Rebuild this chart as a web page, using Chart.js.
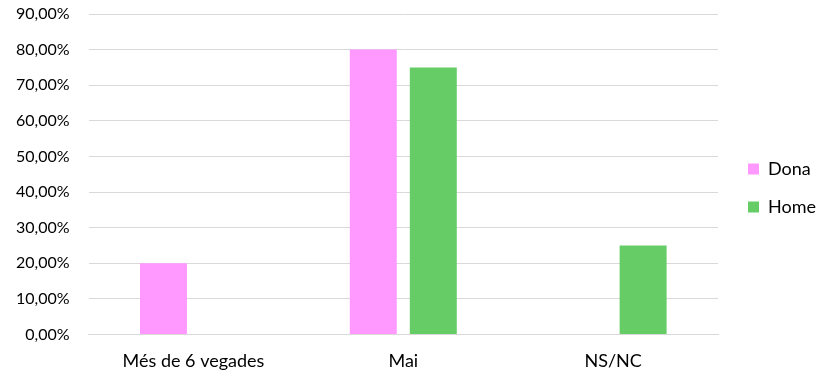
<!DOCTYPE html>
<html>
<head>
<meta charset="utf-8">
<script src="https://cdn.jsdelivr.net/npm/chart.js@4.4.1/dist/chart.umd.min.js"></script>
<style>
  html, body { margin: 0; padding: 0; background: #fff; }
  #wrap { width: 818px; height: 376px; }
</style>
</head>
<body>
<div id="wrap"><canvas id="chart"></canvas></div>
<script>
// Categories and values (percent)
const categories = ["Més de 6 vegades", "Mai", "NS/NC"];
const dona = [20, 80, 0];
const home = [0, 75, 25];

const ctx = document.getElementById("chart").getContext("2d");
Chart.defaults.font.family = "Lato, 'Open Sans', sans-serif";
Chart.defaults.color = "#000";

// legend sits closer to the right edge (and a bit higher) than Chart.js puts it
const tightLegend = {
  id: "tightLegend",
  beforeLayout(chart) {
    const lg = chart.legend;
    if (lg && !lg._tight) {
      const fit = lg.fit;
      lg.fit = function () { fit.call(this); this.width -= 8; };
      lg._tight = true;
    }
  },
  afterLayout(chart) {
    const lg = chart.legend;
    if (lg) { lg.top -= 5; lg.bottom -= 5; }
  }
};

new Chart(ctx, {
  type: "bar",
  data: {
    labels: categories,
    datasets: [
      { label: "Dona", data: dona, backgroundColor: "#FF99FF" },
      { label: "Home", data: home, backgroundColor: "#66CC66" }
    ]
  },
  plugins: [tightLegend],
  options: {
    responsive: true,
    maintainAspectRatio: false,
    animation: false,
    categoryPercentage: 0.572,
    barPercentage: 0.783,
    layout: { padding: { top: 14, right: 0, bottom: 4, left: 16 } },
    plugins: {
      tooltip: { enabled: false },
      legend: {
        position: "right",
        labels: {
          boxWidth: 11,
          boxHeight: 11,
          padding: 20,
          font: { size: 18 }
        }
      }
    },
    scales: {
      x: {
        grid: { color: "transparent", drawTicks: true, tickLength: 16, tickColor: "transparent" },
        border: { color: "#d9d9d9" },
        ticks: { font: { size: 18 }, padding: 0 }
      },
      y: {
        min: 0,
        max: 90,
        grid: { color: "#d9d9d9", drawTicks: true, tickLength: 19, tickColor: "transparent" },
        border: { display: false },
        ticks: {
          stepSize: 10,
          padding: 0,
          font: { size: 16 },
          callback: v => v.toFixed(2).replace(".", ",") + "%"
        }
      },
      // empty spacer between the plot and the legend
      gap: {
        type: "linear",
        position: "right",
        grid: { display: false },
        border: { display: false },
        ticks: { display: false },
        afterFit: s => { s.width = 10; }
      }
    }
  }
});
</script>
</body>
</html>
